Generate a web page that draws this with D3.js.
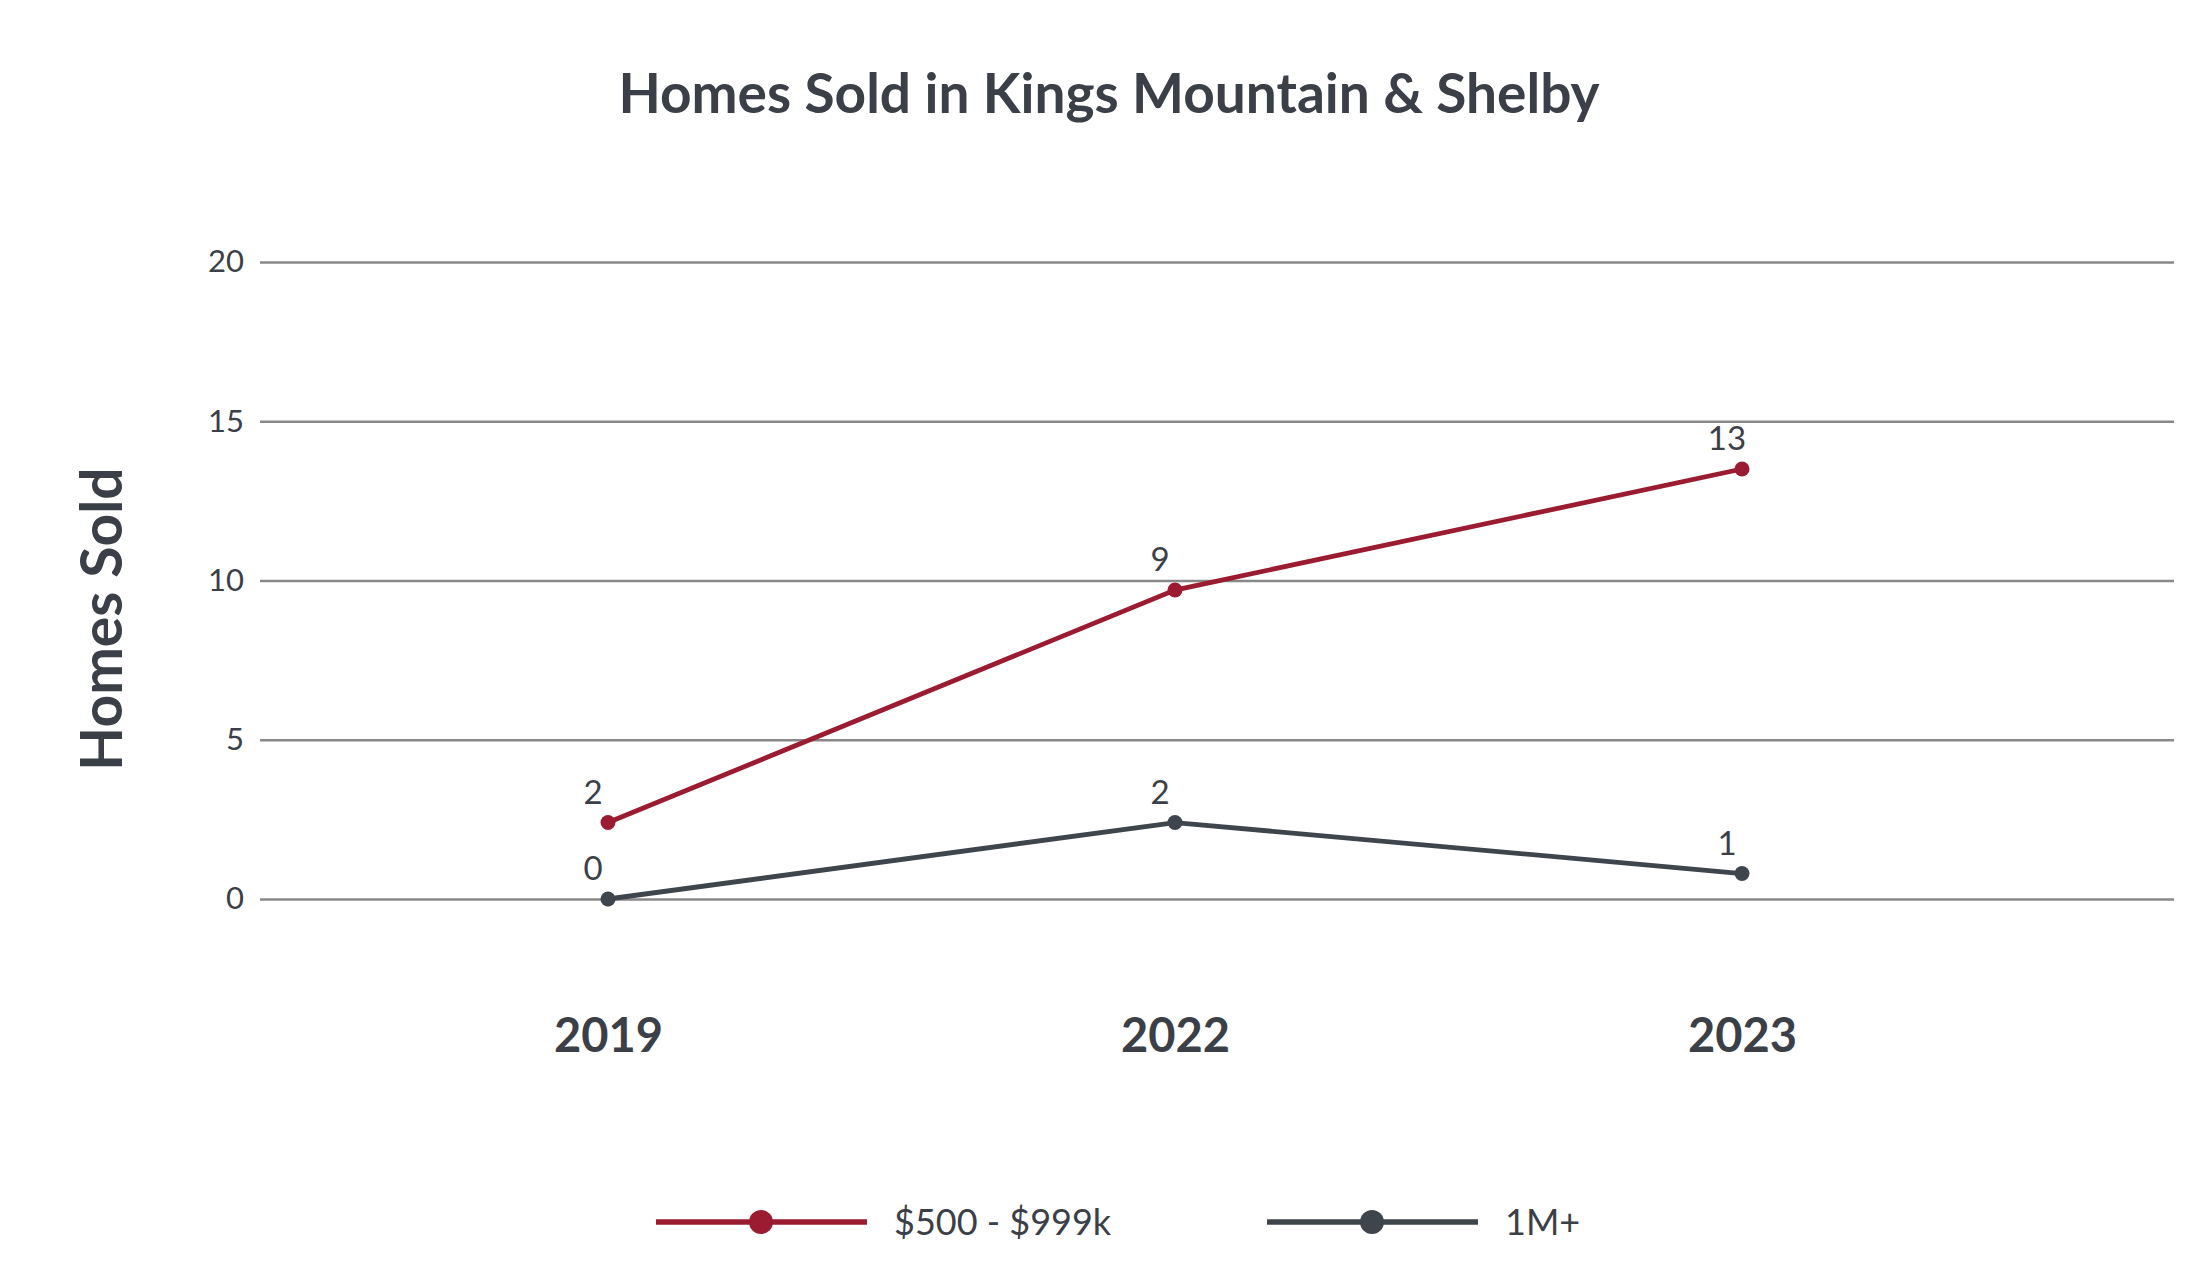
<!DOCTYPE html>
<html><head><meta charset="utf-8">
<script src="https://cdn.jsdelivr.net/npm/d3@7"></script>
<style>html,body{margin:0;padding:0;background:#fff;}svg{display:block;}</style>
</head><body>
<svg id="c" width="2209" height="1285"></svg>
<script>
const years = ["2019", "2022", "2023"];
const seriesNames = ["$500 - $999k", "1M+"];
const midValues = [2.4, 9.7, 13.5];
const midLabels = ["2", "9", "13"];
const topValues = [0, 2.4, 0.8];
const topLabels = ["0", "2", "1"];
const yTicks = [0, 5, 10, 15, 20];
const colors = ["#9b1c31", "#3e454d"];

(function () {
const svg = d3.select("#c");
const font = "Lato, 'Open Sans', sans-serif";
const textColor = "#3b4048";
const pLeft = 260, pRight = 2174, pTop = 262, pBottom = 899;

const y = d3.scaleLinear().domain([0, 20]).range([pBottom, pTop]);
const x = d3.scalePoint().domain(years).range([608, 1742]);

// title
svg.append("text").attr("x", 1109).attr("y", 113).attr("text-anchor", "middle")
  .attr("font-family", font).attr("font-weight", 700).attr("font-size", 55)
  .attr("fill", textColor).text("Homes Sold in Kings Mountain & Shelby");

// grid + y labels
const yAxis = d3.axisLeft(y).tickValues(yTicks).tickSize(-(pRight - pLeft)).tickPadding(16);
const gy = svg.append("g").attr("transform", `translate(${pLeft},0)`).call(yAxis);
gy.select(".domain").remove();
gy.selectAll(".tick line").attr("stroke", "#888888").attr("stroke-width", 2.6);
gy.selectAll(".tick text").attr("font-family", font).attr("font-weight", 400)
  .attr("font-size", 31).attr("fill", textColor).attr("x", -16);

// y axis title
svg.append("text").attr("transform", "translate(122,619) rotate(-90)")
  .attr("text-anchor", "middle").attr("font-family", font).attr("font-weight", 700)
  .attr("font-size", 57).attr("fill", textColor).text("Homes Sold");

// x labels
const xAxis = d3.axisBottom(x).tickSize(0).tickPadding(0);
const gx = svg.append("g").attr("transform", `translate(0,1052)`).call(xAxis);
gx.select(".domain").remove();
gx.selectAll(".tick text").attr("font-family", font).attr("font-weight", 700)
  .attr("font-size", 47).attr("fill", textColor).attr("dy", 0);

const series = [
  {name: seriesNames[0], values: midValues, labels: midLabels, color: colors[0]},
  {name: seriesNames[1], values: topValues, labels: topLabels, color: colors[1]}
];
const line = d3.line().x((d, i) => x(years[i])).y(d => y(d));

series.forEach(s => {
  svg.append("path").datum(s.values).attr("d", line).attr("fill", "none")
    .attr("stroke", s.color).attr("stroke-width", 4.8);
  svg.selectAll(null).data(s.values).enter().append("circle")
    .attr("cx", (d, i) => x(years[i])).attr("cy", d => y(d)).attr("r", 7.5)
    .attr("fill", s.color);
  svg.selectAll(null).data(s.values).enter().append("text")
    .attr("x", (d, i) => x(years[i]) - 15).attr("y", d => y(d) - 19)
    .attr("text-anchor", "middle").attr("font-family", font).attr("font-weight", 400)
    .attr("font-size", 33).attr("fill", textColor)
    .text((d, i) => s.labels[i]);
});

// legend
const legendX = [656, 1267];
series.forEach((s, i) => {
  const g = svg.append("g").attr("transform", `translate(${legendX[i]},1222)`);
  g.append("line").attr("x1", 0).attr("x2", 211).attr("y1", 0).attr("y2", 0)
    .attr("stroke", s.color).attr("stroke-width", 5.5);
  g.append("circle").attr("cx", 105).attr("cy", 0).attr("r", 12).attr("fill", s.color);
  g.append("text").attr("x", 238).attr("y", 0).attr("dy", "0.35em")
    .attr("font-family", font).attr("font-weight", 400).attr("font-size", 36)
    .attr("fill", textColor).text(s.name);
});
})();
</script>
</body></html>
